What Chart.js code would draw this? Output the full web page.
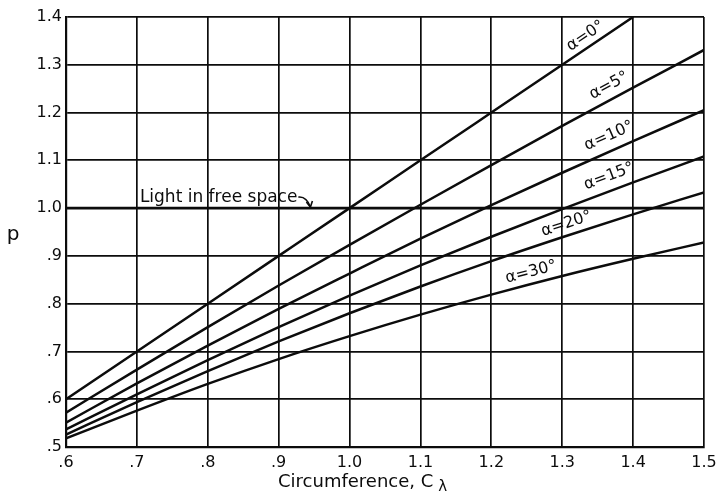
<!DOCTYPE html>
<html>
<head>
<meta charset="utf-8">
<script src="https://cdn.jsdelivr.net/npm/chart.js@4/dist/chart.umd.min.js"></script>
<style>
  html, body { margin: 0; padding: 0; background: #fff; }
  #wrap { width: 716px; height: 497px; }
  canvas { display: block; background: #fff; }
</style>
</head>
<body>
<div id="wrap"><canvas id="c" width="716" height="497"></canvas></div>
<script>
// Relative phase velocity p versus helix circumference C (in wavelengths)
const circumference = [0.6, 0.7, 0.8, 0.9, 1.0, 1.1, 1.2, 1.3, 1.4, 1.5];
const pAlpha0  = [0.600, 0.700, 0.800, 0.900, 1.000, 1.100, 1.200, 1.300, 1.400];
const pAlpha5  = [0.572, 0.662, 0.751, 0.838, 0.923, 1.007, 1.090, 1.172, 1.252, 1.331];
const pAlpha10 = [0.551, 0.633, 0.712, 0.789, 0.863, 0.936, 1.006, 1.074, 1.140, 1.205];
const pAlpha15 = [0.537, 0.610, 0.682, 0.751, 0.817, 0.880, 0.940, 0.998, 1.054, 1.108];
const pAlpha20 = [0.526, 0.594, 0.659, 0.721, 0.780, 0.836, 0.889, 0.939, 0.987, 1.033];
const pAlpha30 = [0.518, 0.576, 0.632, 0.684, 0.732, 0.777, 0.819, 0.858, 0.894, 0.928];
const pLight   = [1.0, 1.0, 1.0, 1.0, 1.0, 1.0, 1.0, 1.0, 1.0, 1.0];

const pitchLabels = ['α=0°', 'α=5°', 'α=10°', 'α=15°', 'α=20°', 'α=30°'];
const xTickLabels = ['.6', '.7', '.8', '.9', '1.0', '1.1', '1.2', '1.3', '1.4', '1.5'];
const yTickLabels = ['.5', '.6', '.7', '.8', '.9', '1.0', '1.1', '1.2', '1.3', '1.4'];

const INK = '#0c0c0c';
const FONT = '"DejaVu Sans", "Liberation Sans", sans-serif';

function pts(ys) {
  return ys.map((y, i) => ({ x: circumference[i], y: y }));
}

function lineSet(label, ys, width) {
  return {
    label: label,
    data: pts(ys),
    borderColor: INK,
    borderWidth: width,
    pointRadius: 0,
    fill: false,
    cubicInterpolationMode: 'monotone'
  };
}

const series = [pAlpha0, pAlpha5, pAlpha10, pAlpha15, pAlpha20, pAlpha30];

// where each pitch-angle label sits along its curve (C value) and how far above it
const labelPlacement = [
  { at: 1.333, lift: 13 },
  { at: 1.366, lift: 15 },
  { at: 1.366, lift: 16 },
  { at: 1.366, lift: 15 },
  { at: 1.306, lift: 12 },
  { at: 1.256, lift: 12 }
];

function interp(ys, c) {
  for (let i = 0; i < ys.length - 1; i++) {
    const x0 = circumference[i], x1 = circumference[i + 1];
    if (c >= x0 && c <= x1) {
      const t = (c - x0) / (x1 - x0);
      return ys[i] + t * (ys[i + 1] - ys[i]);
    }
  }
  return ys[ys.length - 1];
}

const annotations = {
  id: 'annotations',
  afterDatasetsDraw(chart) {
    const ctx = chart.ctx;
    const xs = chart.scales.x, ys = chart.scales.y;
    const area = chart.chartArea;
    ctx.save();
    ctx.fillStyle = INK;
    ctx.strokeStyle = INK;

    // pitch-angle labels, rotated along each curve
    ctx.font = '16px ' + FONT;
    ctx.textAlign = 'center';
    ctx.textBaseline = 'middle';
    series.forEach((s, k) => {
      const pl = labelPlacement[k];
      const c = pl.at;
      const px = xs.getPixelForValue(c);
      const py = ys.getPixelForValue(interp(s, c));
      const xa = xs.getPixelForValue(c - 0.05), ya = ys.getPixelForValue(interp(s, c - 0.05));
      const xb = xs.getPixelForValue(c + 0.05), yb = ys.getPixelForValue(interp(s, c + 0.05));
      const ang = Math.atan2(yb - ya, xb - xa);
      ctx.save();
      ctx.translate(px, py - pl.lift);
      ctx.rotate(ang);
      ctx.fillText(pitchLabels[k], 0, 0);
      ctx.restore();
    });

    // "Light in free space" note with its hook arrow onto the p = 1.0 line
    const yOne = ys.getPixelForValue(1.0);
    const tx = xs.getPixelForValue(0.7) + 3;
    ctx.font = '17px ' + FONT;
    ctx.textAlign = 'left';
    ctx.textBaseline = 'alphabetic';
    const note = 'Light in free space';
    ctx.fillText(note, tx, yOne - 6);
    const ex = tx + ctx.measureText(note).width;
    ctx.lineWidth = 1.6;
    ctx.beginPath();
    ctx.moveTo(ex + 1, yOne - 11);
    ctx.quadraticCurveTo(ex + 9, yOne - 12, ex + 13, yOne - 1);
    ctx.stroke();
    ctx.beginPath();
    ctx.moveTo(ex + 9, yOne - 6);
    ctx.lineTo(ex + 13, yOne - 1);
    ctx.lineTo(ex + 15, yOne - 7);
    ctx.stroke();

    // axis titles
    ctx.font = '20px ' + FONT;
    ctx.textAlign = 'center';
    ctx.textBaseline = 'middle';
    ctx.fillText('p', area.left - 53, (area.top + area.bottom) / 2 + 3);

    ctx.font = '18px ' + FONT;
    ctx.textAlign = 'left';
    const title = 'Circumference, C';
    const lx = area.left + 212;
    const ly = area.bottom + 35;
    ctx.fillText(title, lx, ly);
    const tw = ctx.measureText(title).width;
    ctx.font = '15px ' + FONT;
    ctx.fillText('λ', lx + tw + 5, ly + 5);
    ctx.restore();
  }
};

function tickText(labels, value, start) {
  const i = Math.round((value - start) * 10);
  return labels[i] !== undefined ? labels[i] : '';
}

new Chart(document.getElementById('c'), {
  type: 'line',
  data: {
    datasets: [
      lineSet('Light in free space', pLight, 2.8),
      lineSet(pitchLabels[0], pAlpha0, 2.5),
      lineSet(pitchLabels[1], pAlpha5, 2.5),
      lineSet(pitchLabels[2], pAlpha10, 2.5),
      lineSet(pitchLabels[3], pAlpha15, 2.5),
      lineSet(pitchLabels[4], pAlpha20, 2.5),
      lineSet(pitchLabels[5], pAlpha30, 2.5)
    ]
  },
  options: {
    responsive: false,
    devicePixelRatio: 1,
    animation: false,
    layout: { padding: { top: 17, right: 12, left: 0, bottom: 0 } },
    plugins: {
      legend: { display: false },
      tooltip: { enabled: false }
    },
    scales: {
      x: {
        type: 'linear',
        min: 0.6,
        max: 1.5,
        afterFit(scale) {
          scale.height = 50;
          scale.paddingLeft = 0;
          scale.paddingRight = 0;
        },
        afterBuildTicks(scale) {
          scale.ticks = circumference.map(v => ({ value: v }));
        },
        ticks: {
          color: INK,
          font: { family: FONT, size: 16 },
          padding: 6,
          maxRotation: 0,
          autoSkip: false,
          callback: (v) => tickText(xTickLabels, v, 0.6)
        },
        grid: { color: INK, lineWidth: 1.7, drawTicks: false },
        border: { color: INK, width: 2.2 }
      },
      y: {
        type: 'linear',
        min: 0.5,
        max: 1.4,
        afterFit(scale) {
          scale.width = 66;
          scale.paddingTop = 0;
          scale.paddingBottom = 0;
        },
        afterBuildTicks(scale) {
          scale.ticks = yTickLabels.map((t, i) => ({ value: 0.5 + i / 10 }));
        },
        ticks: {
          color: INK,
          font: { family: FONT, size: 16 },
          padding: 4,
          autoSkip: false,
          callback: (v) => tickText(yTickLabels, v, 0.5)
        },
        grid: { color: INK, lineWidth: 1.7, drawTicks: false },
        border: { color: INK, width: 2.2 }
      }
    }
  },
  plugins: [annotations]
});
</script>
</body>
</html>
